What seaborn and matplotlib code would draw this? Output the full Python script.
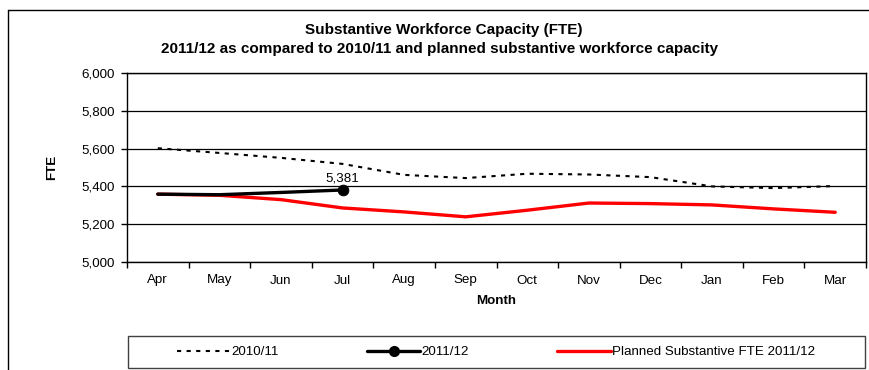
import matplotlib
matplotlib.use("Agg")
import matplotlib.pyplot as plt
from matplotlib.lines import Line2D
from matplotlib.patches import Rectangle
from matplotlib.ticker import FixedLocator, FuncFormatter
import seaborn as sns
import pandas as pd
import numpy as np

months = ["Apr", "May", "Jun", "Jul", "Aug", "Sep", "Oct", "Nov", "Dec", "Jan", "Feb", "Mar"]
fte_2010_11 = [5602, 5577, 5551, 5519, 5461, 5444, 5467, 5463, 5449, 5400, 5391, 5402]
fte_2011_12 = [5359, 5356, 5368, 5381]
planned_2011_12 = [5359, 5353, 5330, 5286, 5265, 5239, 5274, 5312, 5309, 5302, 5281, 5263]
series_names = ["2010/11", "2011/12", "Planned Substantive FTE 2011/12"]
y_ticks = [5000, 5200, 5400, 5600, 5800, 6000]

sns.set_style("white")
plt.rcParams['font.family'] = ['Liberation Sans', 'DejaVu Sans']
plt.rcParams['text.color'] = 'black'
plt.rcParams['axes.labelcolor'] = 'black'
plt.rcParams['xtick.color'] = 'black'
plt.rcParams['ytick.color'] = 'black'

W, H = 869, 370
fig = plt.figure(figsize=(W / 100, H / 100), dpi=100)
ax = fig.add_axes([127 / W, 1 - 262 / H, (866 - 127) / W, (262 - 73) / H])

idx = np.arange(len(months))
df_prev = pd.DataFrame({"m": idx, "v": fte_2010_11})
df_cur = pd.DataFrame({"m": idx[:len(fte_2011_12)], "v": fte_2011_12})
df_plan = pd.DataFrame({"m": idx, "v": planned_2011_12})

FS = 9.6
TFS = 11.0
sns.lineplot(data=df_prev, x="m", y="v", ax=ax, color="black", lw=1.5,
             linestyle=(0, (2, 2.6)), zorder=3)
sns.lineplot(data=df_plan, x="m", y="v", ax=ax, color="#ff0000", lw=2.4, zorder=4)
sns.lineplot(data=df_cur, x="m", y="v", ax=ax, color="black", lw=2.4, zorder=5)
last = df_cur.iloc[[-1]]
sns.scatterplot(data=last, x="m", y="v", ax=ax, color="black", s=60,
                edgecolor="black", zorder=6, legend=False)
lv = fte_2011_12[-1]
ax.annotate(f"{lv:,}", (len(fte_2011_12) - 1, lv), xytext=(0, 8.6),
            textcoords="offset points", ha="center", va="center", fontsize=FS, color="black")

ax.set_xlim(-0.5, len(months) - 0.5)
ax.set_ylim(y_ticks[0], y_ticks[-1])
ax.yaxis.set_major_locator(FixedLocator(y_ticks))
ax.yaxis.set_major_formatter(FuncFormatter(lambda v, p: f"{int(v):,}"))
ax.xaxis.set_major_locator(FixedLocator(np.arange(-0.5, len(months), 1.0)))
ax.xaxis.set_major_formatter(FuncFormatter(lambda v, p: ""))
ax.set_xticks(idx, minor=True)
ax.set_xticklabels(months, minor=True)
ax.tick_params(axis="x", which="major", direction="out", length=4, width=1, color="black", bottom=True)
ax.tick_params(axis="x", which="minor", length=0, pad=9, labelsize=FS, labelcolor="black")
ax.tick_params(axis="y", which="major", direction="out", length=4, width=1, color="black",
               left=True, pad=5, labelsize=FS, labelcolor="black")
ax.grid(axis="y", color="black", lw=0.9)
ax.grid(axis="x", visible=False)
ax.set_axisbelow(True)
for s in ax.spines.values():
    s.set_visible(True)
    s.set_color("black")
    s.set_linewidth(1.0)

ax.set_xlabel("Month", fontsize=FS, fontweight="bold", labelpad=6, color="black")
ax.set_ylabel("FTE", fontsize=FS, fontweight="bold", color="black")
ax.yaxis.set_label_coords((58 - 127) / (866 - 127), 0.5)

fig.text(443.5 / W, 1 - 30 / H, "Substantive Workforce Capacity (FTE)", ha="center", va="center",
         fontsize=TFS, fontweight="bold", color="black")
fig.text(440 / W, 1 - 49 / H,
         "2011/12 as compared to 2010/11 and planned substantive workforce capacity",
         ha="center", va="center", fontsize=TFS, fontweight="bold", color="black")

# outer chart border (top and left visible)
fig.add_artist(Line2D([8 / W, 1], [1 - 9.5 / H, 1 - 9.5 / H], color="black", lw=1.0,
                      transform=fig.transFigure))
fig.add_artist(Line2D([8 / W, 8 / W], [0, 1 - 9.5 / H], color="black", lw=1.0,
                      transform=fig.transFigure))

# legend
fig.add_artist(Rectangle((127.5 / W, 1 - 368 / H), (865 - 127.5) / W, (368 - 336) / H,
                         transform=fig.transFigure, fill=False, edgecolor="#404040", lw=1.0))
handles = [
    Line2D([], [], color="black", lw=1.5, linestyle=(0, (2, 2.6))),
    Line2D([], [], color="black", lw=2.4, marker="o", markersize=7, markevery=[1]),
    Line2D([], [], color="#ff0000", lw=2.4),
]
leg = fig.legend(handles, series_names, loc="center", bbox_to_anchor=(496 / W, 1 - 352 / H),
                 ncol=3, frameon=False, fontsize=FS, handlelength=4.0, handletextpad=0.1,
                 columnspacing=6.6, borderpad=0)
for t in leg.get_texts():
    t.set_color("black")

fig.savefig("out.png", dpi=100)
